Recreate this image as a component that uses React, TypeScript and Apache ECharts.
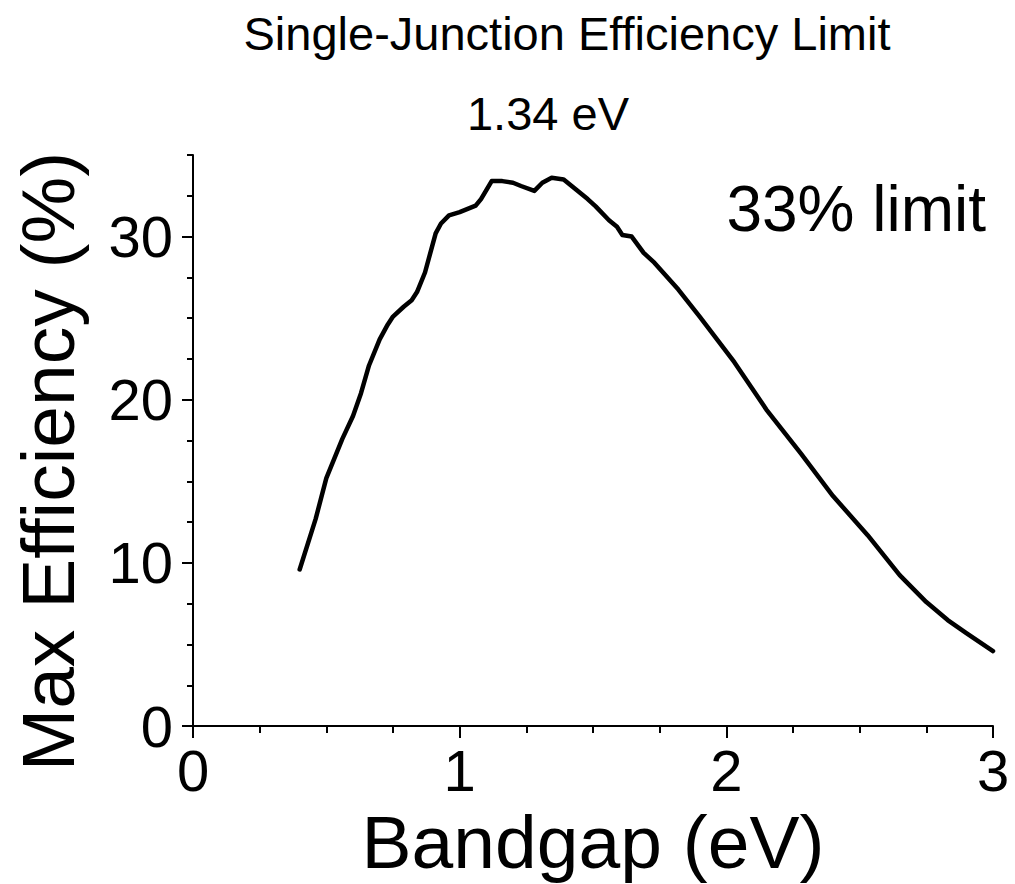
import React, { useEffect, useRef } from "react";
import * as echarts from "echarts";

const bandgap = [0.40, 0.46, 0.50, 0.56, 0.60, 0.63, 0.66, 0.70, 0.73, 0.75, 0.79, 0.82, 0.84, 0.87, 0.91, 0.93, 0.96, 1.00, 1.03, 1.06, 1.08, 1.12, 1.16, 1.20, 1.23, 1.28, 1.31, 1.345, 1.39, 1.42, 1.48, 1.51, 1.56, 1.59, 1.61, 1.645, 1.69, 1.73, 1.82, 1.90, 2.03, 2.15, 2.28, 2.40, 2.53, 2.65, 2.75, 2.83, 2.90, 3.00];
const efficiency = [9.6, 12.7, 15.2, 17.6, 19.0, 20.4, 22.1, 23.7, 24.6, 25.1, 25.7, 26.1, 26.6, 27.8, 30.2, 30.8, 31.3, 31.5, 31.7, 31.9, 32.3, 33.4, 33.4, 33.3, 33.1, 32.8, 33.3, 33.6, 33.5, 33.1, 32.3, 31.85, 31.0, 30.6, 30.1, 30.0, 29.0, 28.4, 26.75, 25.1, 22.3, 19.4, 16.7, 14.1, 11.7, 9.25, 7.6, 6.5, 5.7, 4.6];

const yMajorTicks = [0, 10, 20, 30];
const titleText = "Single-Junction Efficiency Limit";
const peakText = "1.34 eV";
const limitText = "33% limit";
const xName = "Bandgap (eV)";
const yName = "Max Efficiency (%)";

const FONT = "'Liberation Sans', Arial, sans-serif";

export default function App() {
  const ref = useRef<HTMLDivElement>(null);
  useEffect(() => {
    if (!ref.current) return;
    const chart = echarts.init(ref.current, undefined, { renderer: "svg" });
    const data = bandgap.map((x, i) => [x, efficiency[i]]);
    chart.setOption({
      animation: false,
      backgroundColor: "#ffffff",
      grid: { left: 193, right: 22, top: 155, bottom: 156, containLabel: false },
      xAxis: {
        type: "value",
        min: 0,
        max: 3,
        interval: 1,
        name: xName,
        nameLocation: "middle",
        nameGap: 70,
        nameTextStyle: { fontFamily: FONT, fontSize: 75, color: "#000" },
        axisLine: { show: true, lineStyle: { color: "#000", width: 2 } },
        axisTick: { show: true, inside: false, length: 12, lineStyle: { color: "#000", width: 2 } },
        minorTick: { show: true, splitNumber: 4, length: 7, lineStyle: { color: "#000", width: 2 } },
        splitLine: { show: false },
        minorSplitLine: { show: false },
        axisLabel: { fontFamily: FONT, fontSize: 58, color: "#000", margin: 15 },
      },
      yAxis: [
        {
          type: "value",
          position: "left",
          min: 0,
          max: 35,
          name: yName,
          nameLocation: "middle",
          nameGap: 108,
          nameRotate: 90,
          nameTextStyle: { fontFamily: FONT, fontSize: 75, color: "#000", padding: [0, 42, 0, 0] },
          axisLine: { show: true, lineStyle: { color: "#000", width: 2 } },
          axisTick: { show: true, inside: false, length: 11, customValues: yMajorTicks, lineStyle: { color: "#000", width: 2 } },
          splitLine: { show: false },
          axisLabel: { fontFamily: FONT, fontSize: 58, color: "#000", margin: 20, customValues: yMajorTicks },
        },
        {
          type: "value",
          position: "left",
          offset: 0,
          min: 0,
          max: 35,
          interval: 2.5,
          axisLine: { show: false },
          axisTick: { show: true, inside: false, length: 6, lineStyle: { color: "#000", width: 2 } },
          splitLine: { show: false },
          axisLabel: { show: false },
        },
      ],
      graphic: [
        {
          type: "text",
          x: 567,
          y: 33,
          style: { text: titleText, fontFamily: FONT, fontSize: 47, fill: "#000", textAlign: "center", textVerticalAlign: "middle" },
        },
        {
          type: "text",
          x: 548,
          y: 113,
          style: { text: peakText, fontFamily: FONT, fontSize: 47, fill: "#000", textAlign: "center", textVerticalAlign: "middle" },
        },
        {
          type: "text",
          x: 986,
          y: 209,
          style: { text: limitText, fontFamily: FONT, fontSize: 64, fill: "#000", textAlign: "right", textVerticalAlign: "middle" },
        },
      ],
      series: [
        {
          type: "line",
          data,
          xAxisIndex: 0,
          yAxisIndex: 0,
          showSymbol: false,
          smooth: false,
          lineStyle: { color: "#000", width: 4.5, join: "round", cap: "round" },
          emphasis: { disabled: true },
        },
      ],
    });
    return () => chart.dispose();
  }, []);
  return (
    <div
      ref={ref}
      style={{ position: "fixed", left: 0, top: 0, width: 1015, height: 884, background: "#fff" }}
    />
  );
}
